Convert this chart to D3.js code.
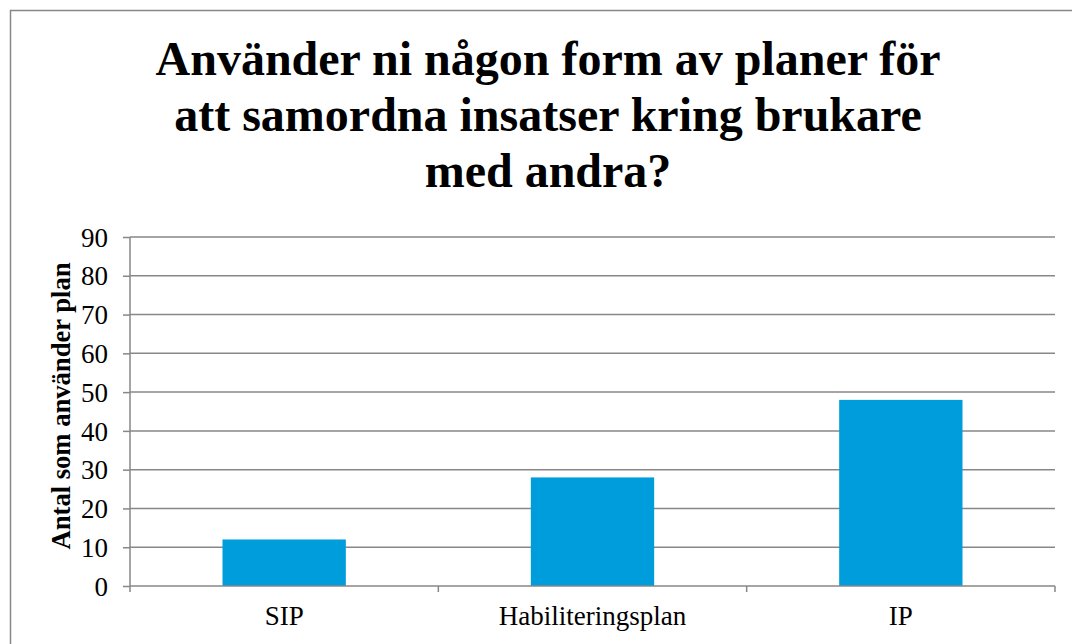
<!DOCTYPE html>
<html>
<head>
<meta charset="utf-8">
<script src="https://cdn.jsdelivr.net/npm/d3@7"></script>
<style>
  body { margin: 0; background: #fff; }
  text { font-family: "Liberation Serif", "Times New Roman", serif; fill: #000; }
</style>
</head>
<body>
<div id="chart"></div>
<script>
var categories = ["SIP", "Habiliteringsplan", "IP"];
var values = [12, 28, 48];
var yTicks = [0, 10, 20, 30, 40, 50, 60, 70, 80, 90];
var titleLines = ["Använder ni någon form av planer för", "att samordna insatser kring brukare", "med andra?"];
var yLabel = "Antal som använder plan";

var width = 1072,
  height = 644,
  svg = d3
    .select("#chart")
    .append("svg")
    .attr("width", width)
    .attr("height", height);

// chart frame (right and bottom edges are cut off)
svg.append("rect")
  .attr("x", 10.5)
  .attr("y", 10.5)
  .attr("width", 1100)
  .attr("height", 700)
  .attr("fill", "none")
  .attr("stroke", "#878787")
  .attr("stroke-width", 1.5);

var margin = { top: 237, left: 130, right: 17, bottom: 58 },
  iwidth = width - margin.left - margin.right,
  iheight = height - margin.top - margin.bottom;

var g = svg.append("g")
  .attr("transform", `translate(${margin.left}, ${margin.top})`);

var x = d3.scaleBand().domain(categories).range([0, iwidth]).paddingInner(0.6).paddingOuter(0.3);
var xEdge = d3.scaleLinear().domain([0, categories.length]).range([0, iwidth]);
var y = d3.scaleLinear().domain([0, 90]).range([iheight, 0]);

// gridlines
g.selectAll(".grid")
  .data(yTicks.slice(1))
  .enter()
  .append("line")
  .attr("x1", 0)
  .attr("x2", iwidth)
  .attr("y1", d => y(d))
  .attr("y2", d => y(d))
  .attr("stroke", "#878787")
  .attr("stroke-width", 1.5);

// bars
g.selectAll(".bar")
  .data(values)
  .enter()
  .append("rect")
  .attr("x", (d, i) => x(categories[i]))
  .attr("width", x.bandwidth())
  .attr("y", d => y(d))
  .attr("height", d => iheight - y(d))
  .attr("fill", "#009ddc");

// y axis
var yAxis = g.append("g")
  .call(d3.axisLeft(y).tickValues(yTicks).tickSize(7).tickPadding(15));
yAxis.attr("font-family", null).attr("font-size", null);
yAxis.select(".domain").attr("stroke", "#878787").attr("stroke-width", 1.5).attr("d", `M0,${iheight}V0`);
yAxis.selectAll(".tick line").attr("stroke", "#878787").attr("stroke-width", 1.5);
yAxis.selectAll(".tick text")
  .style("font-size", "27px")
  .attr("dy", "0.34em")
  .attr("fill", "#000");

// x axis with ticks between categories
var xAxis = g.append("g").attr("transform", `translate(0,${iheight})`);
xAxis.append("line")
  .attr("x1", 0).attr("x2", iwidth)
  .attr("stroke", "#878787").attr("stroke-width", 1.5);
xAxis.selectAll(".xtick")
  .data(d3.range(categories.length + 1))
  .enter()
  .append("line")
  .attr("x1", d => xEdge(d))
  .attr("x2", d => xEdge(d))
  .attr("y1", 0)
  .attr("y2", 6)
  .attr("stroke", "#878787")
  .attr("stroke-width", 1.5);
xAxis.selectAll(".xlabel")
  .data(categories)
  .enter()
  .append("text")
  .attr("x", d => x(d) + x.bandwidth() / 2)
  .attr("y", 39)
  .attr("text-anchor", "middle")
  .style("font-size", "27px")
  .text(d => d);

// y label
svg.append("text")
  .attr("transform", `translate(70, 406) rotate(-90)`)
  .attr("text-anchor", "middle")
  .style("font-size", "26.6px")
  .style("font-weight", "bold")
  .text(yLabel);

// title
svg.selectAll(".title")
  .data(titleLines)
  .enter()
  .append("text")
  .attr("x", 548)
  .attr("y", (d, i) => 75 + i * 56)
  .attr("text-anchor", "middle")
  .style("font-size", "48px")
  .style("font-weight", "bold")
  .text(d => d);
</script>
</body>
</html>
